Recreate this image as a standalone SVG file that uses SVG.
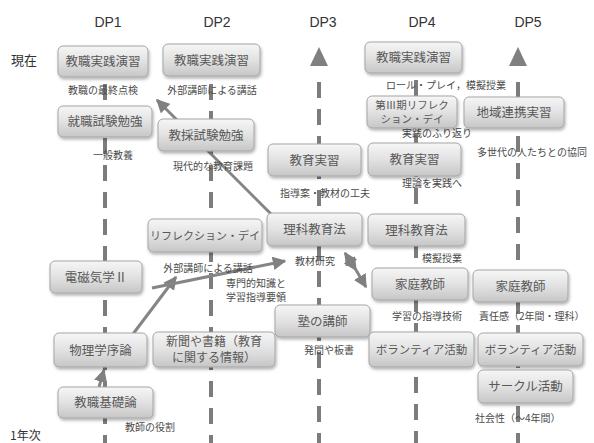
<svg xmlns="http://www.w3.org/2000/svg" width="594" height="443" viewBox="0 0 594 443">
<defs>
<linearGradient id="g" x1="0" y1="0" x2="0" y2="1">
<stop offset="0" stop-color="#f6f6f6"/>
<stop offset="0.5" stop-color="#e2e2e2"/>
<stop offset="1" stop-color="#c6c6c6"/>
</linearGradient>
<filter id="sh" x="-10%" y="-20%" width="125%" height="150%">
<feDropShadow dx="1" dy="2" stdDeviation="1.5" flood-color="#000" flood-opacity="0.3"/>
</filter>
<marker id="ah" viewBox="0 0 10 10" refX="9" refY="5" markerWidth="4.5" markerHeight="4.5" orient="auto-start-reverse" markerUnits="strokeWidth">
<path d="M0,0 L10,5 L0,10 z" fill="#808080"/>
</marker>
<style>
.n rect{fill:url(#g);stroke:#a5a5a5;stroke-width:1;filter:url(#sh)}
.n text{font-family:"Noto Sans CJK JP","Noto Sans",sans-serif;font-size:12.5px;fill:#585858;text-anchor:middle}
.lb{font-family:"Noto Sans CJK JP","Noto Sans",sans-serif;font-size:10px;fill:#4a4a4a}
.c{text-anchor:middle}
.hd{font-family:"Liberation Sans",Arial,sans-serif;font-size:14px;fill:#333;text-anchor:middle}
.side{font-family:"Noto Sans CJK JP","Noto Sans",sans-serif;font-size:13px;fill:#333}
.dl{stroke:#7c7c7c;stroke-width:4;stroke-dasharray:16 11;fill:none}
.ar{stroke:#858585;stroke-width:3;fill:none;marker-end:url(#ah)}
</style>
</defs>
<rect width="594" height="443" fill="#fff"/>
<g id="headers">
<text class="hd" x="108" y="27">DP1</text>
<text class="hd" x="217" y="27">DP2</text>
<text class="hd" x="323" y="27">DP3</text>
<text class="hd" x="422" y="27">DP4</text>
<text class="hd" x="528" y="27">DP5</text>
<text class="side" x="11" y="65">現在</text>
<text class="side" x="10" y="440" style="font-size:12px">1年次</text>
</g>
<g id="connectors">
<line class="dl" x1="105" y1="84" x2="105" y2="443"/>
<line class="dl" x1="211" y1="84" x2="211" y2="443"/>
<line class="dl" x1="319" y1="82" x2="319" y2="443"/>
<line class="dl" x1="416" y1="80" x2="416" y2="443"/>
<line class="dl" x1="518" y1="82" x2="518" y2="443"/>
<polygon points="319,47 310,66 328,66" fill="#808080"/>
<polygon points="518,47 509,66 527,66" fill="#808080"/>
<line class="ar" x1="272" y1="215" x2="157" y2="100"/>
<line class="ar" x1="133" y1="334" x2="176" y2="277"/>
<line class="ar" x1="152" y1="288" x2="285" y2="261"/>
<line class="ar" x1="356" y1="270" x2="345" y2="253" style="marker-start:url(#ah)"/>
<line class="ar" x1="356" y1="270" x2="366" y2="287"/>
<line class="ar" x1="99" y1="387" x2="104" y2="370"/>
</g>
<g id="labels">
<text class="lb c" x="103" y="94">教職の最終点検</text>
<text class="lb c" x="212" y="94">外部講師による講話</text>
<text class="lb c" x="446" y="89">ロール・プレイ，模擬授業</text>
<text class="lb c" x="437" y="137">実践のふり返り</text>
<text class="lb c" x="113" y="159">一般教養</text>
<text class="lb c" x="213" y="170">現代的な教育課題</text>
<text class="lb" x="477" y="156">多世代の人たちとの協同</text>
<text class="lb c" x="325" y="197">指導案・教材の工夫</text>
<text class="lb c" x="432" y="187">理論を実践へ</text>
<text class="lb c" x="208" y="272">外部講師による講話</text>
<text class="lb c" x="315" y="265">教材研究</text>
<text class="lb" x="226" y="287">専門的知識と</text>
<text class="lb" x="226" y="301">学習指導要領</text>
<text class="lb" x="422" y="262">模擬授業</text>
<text class="lb c" x="427" y="320">学習の指導技術</text>
<text class="lb" x="479" y="320">責任感（2年間・理科）</text>
<text class="lb c" x="329" y="354">発問や板書</text>
<text class="lb" x="475" y="422">社会性（～4年間）</text>
<text class="lb c" x="150" y="431">教師の役割</text>
</g>
<g id="n1" class="n"><rect x="58" y="46" width="90" height="31" rx="5"/><text x="103" y="66">教職実践演習</text></g>
<g id="n2" class="n"><rect x="163" y="44" width="97" height="32" rx="5"/><text x="211.5" y="64.5">教職実践演習</text></g>
<g id="n3" class="n"><rect x="365" y="42" width="97" height="31" rx="5"/><text x="413.5" y="62">教職実践演習</text></g>
<g id="n4" class="n"><rect x="58" y="106" width="94" height="31" rx="5"/><text x="105" y="126">就職試験勉強</text></g>
<g id="n5" class="n"><rect x="158" y="119" width="96" height="32" rx="5"/><text x="206" y="139.5">教採試験勉強</text></g>
<g id="n6" class="n"><rect x="367" y="96" width="90" height="32" rx="5"/><text x="412" y="109" style="font-size:10.5px">第Ⅲ期リフレク</text><text x="412" y="123" style="font-size:10.5px">ション・デイ</text></g>
<g id="n7" class="n"><rect x="464" y="97" width="100" height="31" rx="5"/><text x="514" y="117">地域連携実習</text></g>
<g id="n8" class="n"><rect x="268" y="144" width="93" height="32" rx="5"/><text x="314.5" y="164.5">教育実習</text></g>
<g id="n9" class="n"><rect x="368" y="143" width="93" height="33" rx="5"/><text x="414.5" y="164">教育実習</text></g>
<g id="n10" class="n"><rect x="267" y="213" width="95" height="33" rx="5"/><text x="314.5" y="234">理科教育法</text></g>
<g id="n11" class="n"><rect x="368" y="214" width="97" height="32" rx="5"/><text x="416.5" y="234.5">理科教育法</text></g>
<g id="n12" class="n"><rect x="148" y="219" width="114" height="33" rx="5"/><text x="205" y="239.5" style="font-size:11px">リフレクション・デイ</text></g>
<g id="n13" class="n"><rect x="50" y="261" width="92" height="32" rx="5"/><text x="96" y="281.5">電磁気学Ⅱ</text></g>
<g id="n14" class="n"><rect x="372" y="268" width="96" height="32" rx="5"/><text x="420" y="288.5">家庭教師</text></g>
<g id="n15" class="n"><rect x="473" y="270" width="95" height="32" rx="5"/><text x="520.5" y="290.5">家庭教師</text></g>
<g id="n16" class="n"><rect x="275" y="305" width="95" height="32" rx="5"/><text x="322.5" y="325.5">塾の講師</text></g>
<g id="n17" class="n"><rect x="54" y="333" width="93" height="34" rx="5"/><text x="100.5" y="354.5">物理学序論</text></g>
<g id="n18" class="n"><rect x="153" y="332" width="122" height="35" rx="5"/><text x="214" y="346" style="font-size:12px">新聞や書籍（教育</text><text x="214" y="362" style="font-size:12px">に関する情報）</text></g>
<g id="n19" class="n"><rect x="369" y="332" width="105" height="35" rx="5"/><text x="421.5" y="353.5" style="font-size:11.5px">ボランティア活動</text></g>
<g id="n20" class="n"><rect x="478" y="333" width="105" height="33" rx="5"/><text x="530.5" y="353.5" style="font-size:11.5px">ボランティア活動</text></g>
<g id="n21" class="n"><rect x="478" y="370" width="95" height="33" rx="5"/><text x="525.5" y="391">サークル活動</text></g>
<g id="n22" class="n"><rect x="58" y="387" width="95" height="31" rx="5"/><text x="105.5" y="407">教職基礎論</text></g>
</svg>
